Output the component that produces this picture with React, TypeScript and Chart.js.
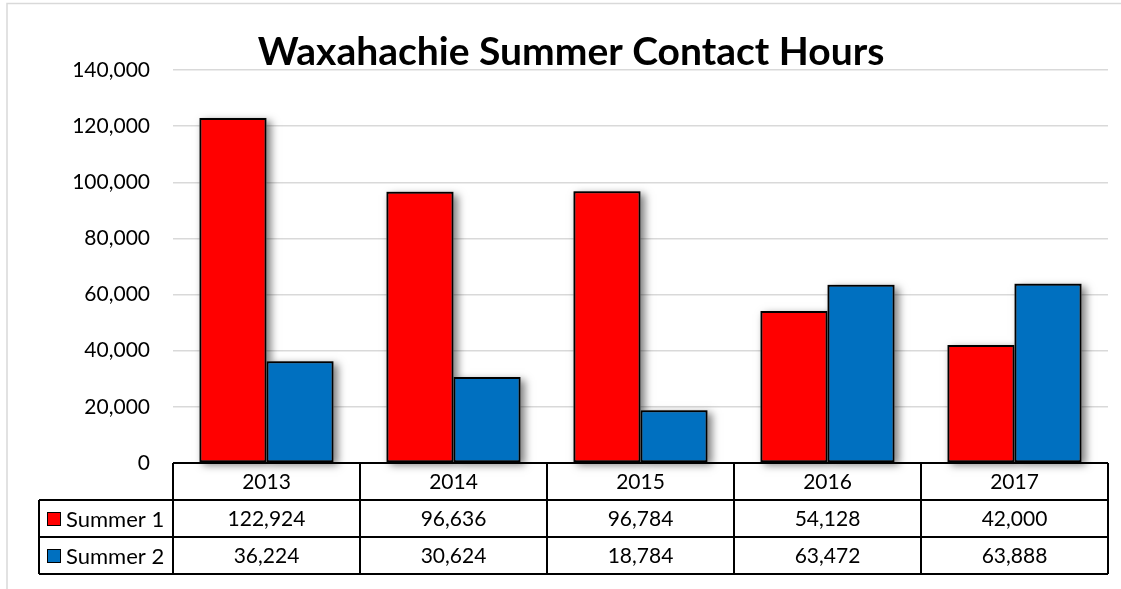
import React, { useEffect, useRef } from "react";
import { Chart, registerables } from "chart.js";

Chart.register(...registerables);

const TITLE = "Waxahachie Summer Contact Hours";
const categories = ["2013", "2014", "2015", "2016", "2017"];
const seriesNames = ["Summer 1", "Summer 2"];
const summer1 = [122924, 96636, 96784, 54128, 42000];
const summer2 = [36224, 30624, 18784, 63472, 63888];
const seriesColors = ["#ff0000", "#0070c0"];
const yMin = 0;
const yMax = 140000;
const yStep = 20000;

const FONT = "Lato, 'Open Sans', sans-serif";
const fmt = (v: number) => v.toLocaleString("en-US");

const shadowPlugin = {
  id: "barShadow",
  beforeDatasetsDraw(chart: any) {
    const ctx = chart.ctx;
    ctx.save();
    ctx.shadowColor = "rgba(0,0,0,0.5)";
    ctx.shadowBlur = 8;
    ctx.shadowOffsetX = 4;
    ctx.shadowOffsetY = 3;
    ctx.fillStyle = "#888";
    chart.data.datasets.forEach((_: any, di: number) => {
      const meta = chart.getDatasetMeta(di);
      meta.data.forEach((el: any) => {
        const p = el.getProps(["x", "y", "base", "width"], true);
        ctx.fillRect(p.x - p.width / 2, p.y, p.width, p.base - p.y);
      });
    });
    ctx.restore();
  },
};

const decorPlugin = {
  id: "decor",
  afterDraw(chart: any) {
    const ctx = chart.ctx;
    const area = chart.chartArea;
    const xs = chart.scales.x;
    ctx.save();
    // outer frame
    ctx.strokeStyle = "#d9d9d9";
    ctx.lineWidth = 1.5;
    ctx.beginPath();
    ctx.moveTo(7, 589);
    ctx.lineTo(7, 3.5);
    ctx.lineTo(1121, 3.5);
    ctx.stroke();

    // title
    ctx.fillStyle = "#000";
    ctx.font = `bold 39px ${FONT}`;
    ctx.textAlign = "center";
    ctx.textBaseline = "alphabetic";
    ctx.fillText(TITLE, 571, 65);

    // data table
    const n = categories.length;
    const cw = (area.right - area.left) / n;
    const top = area.bottom;
    const rowH = 37;
    const labelLeft = 39;
    ctx.strokeStyle = "#000";
    ctx.lineWidth = 2;
    ctx.beginPath();
    ctx.moveTo(area.left, top);
    ctx.lineTo(area.right, top);
    for (let r = 1; r <= 3; r++) {
      ctx.moveTo(labelLeft, top + rowH * r);
      ctx.lineTo(area.right, top + rowH * r);
    }
    ctx.moveTo(labelLeft, top + rowH);
    ctx.lineTo(labelLeft, top + rowH * 3);
    for (let i = 0; i <= n; i++) {
      const x = Math.round(area.left + cw * i);
      ctx.moveTo(x, top);
      ctx.lineTo(x, top + rowH * 3);
    }
    ctx.stroke();

    ctx.font = `21px ${FONT}`;
    ctx.textBaseline = "middle";
    ctx.textAlign = "center";
    ctx.fillStyle = "#000";
    categories.forEach((c, i) => {
      ctx.fillText(c, xs.getPixelForValue(i), top + rowH / 2 + 1);
    });
    const rows = [summer1, summer2];
    rows.forEach((vals, r) => {
      const cy = top + rowH * (r + 1) + rowH / 2 + 1;
      ctx.font = `21px ${FONT}`;
      vals.forEach((v, i) => {
        ctx.fillText(fmt(v), xs.getPixelForValue(i), cy);
      });
      ctx.fillStyle = seriesColors[r];
      ctx.fillRect(47.5, cy - 7, 13, 13);
      ctx.lineWidth = 1;
      ctx.strokeStyle = "#000";
      ctx.strokeRect(47.5, cy - 7, 13, 13);
      ctx.fillStyle = "#000";
      ctx.textAlign = "left";
      ctx.font = `22px ${FONT}`;
      ctx.fillText(seriesNames[r], 66, cy);
      ctx.textAlign = "center";
    });
    ctx.restore();
  },
};

export default function App() {
  const ref = useRef<HTMLCanvasElement | null>(null);
  useEffect(() => {
    if (!ref.current) return;
    const chart = new Chart(ref.current, {
      type: "bar",
      data: {
        labels: categories,
        datasets: [
          {
            label: seriesNames[0],
            data: summer1,
            backgroundColor: seriesColors[0],
            borderColor: "#000",
            borderWidth: 2,
            borderSkipped: false,
            categoryPercentage: 0.717,
            barPercentage: 1,
          },
          {
            label: seriesNames[1],
            data: summer2,
            backgroundColor: seriesColors[1],
            borderColor: "#000",
            borderWidth: 2,
            borderSkipped: false,
            categoryPercentage: 0.717,
            barPercentage: 1,
          },
        ],
      },
      options: {
        responsive: false,
        animation: false,
        devicePixelRatio: 1,
        layout: { padding: { left: 0, top: 70, right: 13, bottom: 126 } },
        plugins: {
          legend: { display: false },
          title: { display: false },
          tooltip: { enabled: false },
        },
        scales: {
          x: {
            display: false,
            grid: { display: false },
          },
          y: {
            min: yMin,
            max: yMax,
            afterFit(scale: any) {
              scale.width = 173;
            },
            border: { display: false },
            grid: { color: "#d9d9d9", lineWidth: 1.5, drawTicks: false },
            ticks: {
              stepSize: yStep,
              padding: 23,
              color: "#000",
              font: { family: FONT, size: 21 },
              callback: (v: any) => fmt(Number(v)),
            },
          },
        },
      },
      plugins: [shadowPlugin, decorPlugin],
    });
    return () => chart.destroy();
  }, []);
  return (
    <canvas
      ref={ref}
      width={1121}
      height={589}
      style={{ position: "fixed", left: 0, top: 0, width: 1121, height: 589 }}
    />
  );
}
